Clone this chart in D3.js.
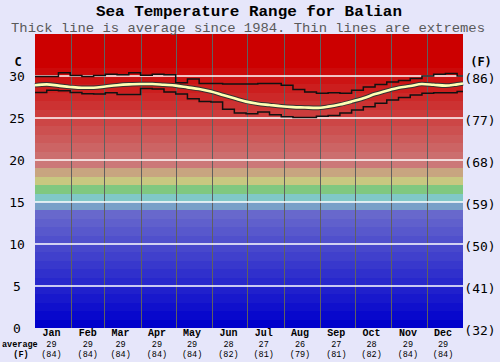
<!DOCTYPE html>
<html><head><meta charset="utf-8">
<script src="https://cdn.jsdelivr.net/npm/d3@7"></script>
<style>html,body{margin:0;padding:0;background:#e6e6fa;}svg{display:block;}</style>
</head><body>
<svg id="chart" width="500" height="362"></svg>
<script>
const title = "Sea Temperature Range for Balian";
const subtitle = "Thick line is average since 1984. Thin lines are extremes";
const months = ["Jan","Feb","Mar","Apr","May","Jun","Jul","Aug","Sep","Oct","Nov","Dec"];
const monthDays = [31,28,31,30,31,30,31,31,30,31,30,31];
const monthAvgC = [29,29,29,29,29,28,27,26,27,28,29,29];
const monthAvgF = [84,84,84,84,84,82,81,79,81,82,84,84];
const cTicks = [0,5,10,15,20,25,30];
const fTicks = [32,41,50,59,68,77,86];
const days = [0,10,20,30,40,50,60,70,80,90,100,110,120,130,140,150,160,170,180,190,200,210,220,230,240,250,260,270,280,290,300,310,320,330,340,350,360,365];
const avgTemp = [28.9,29.0,28.85,28.7,28.6,28.6,28.75,28.9,29.0,29.05,29.05,28.95,28.85,28.65,28.45,28.15,27.75,27.35,26.95,26.7,26.55,26.4,26.3,26.25,26.2,26.35,26.6,26.95,27.35,27.85,28.25,28.6,28.8,29.05,28.95,28.85,29.0,29.1];
const maxTemp = [29.95,29.95,30.4,30.05,29.95,30.05,30.2,30.15,30.4,30.1,30.2,30.15,29.2,29.65,29.1,29.1,29.05,29.05,29.05,29.1,29.1,28.9,28.4,28.1,27.95,28.0,27.95,28.3,28.7,29.0,29.3,29.45,29.7,30.0,30.2,30.3,30.0,30.0];
const minTemp = [28.05,28.3,28.25,28.05,27.9,27.85,28.0,27.8,27.8,28.5,28.45,28.1,27.85,27.3,26.95,26.9,26.05,25.6,25.5,25.7,25.4,25.15,25.05,25.05,25.2,25.3,25.6,25.95,26.35,26.75,27.15,27.45,27.75,27.95,28.0,28.0,28.15,28.15];

const svg = d3.select("#chart");
const x = d3.scaleLinear().domain([0,365]).range([35,463]);
const y = d3.scaleLinear().domain([0,35]).range([328,34]);
const mono = "'Liberation Mono','DejaVu Sans Mono',monospace";
const dmono = "'DejaVu Sans Mono',monospace";

function bandColor(t){
  if (t < 14) { const v = Math.round(t*8); return `rgb(${v},${v},204)`; }
  if (t < 15) return "rgb(120,160,200)";
  if (t < 16) return "rgb(128,200,200)";
  if (t < 17) return "rgb(128,200,128)";
  if (t < 18) return "rgb(200,200,128)";
  if (t < 19) return "rgb(200,165,128)";
  const g = Math.max(0, Math.round((31 - t)*10));
  return `rgb(204,${g},${g})`;
}
const bands = d3.range(0,35,1);
svg.append("g").selectAll("rect").data(bands).join("rect")
  .attr("x", x(0)).attr("width", x(365)-x(0))
  .attr("y", d => y(d+1)).attr("height", d => y(d)-y(d+1))
  .attr("fill", d => bandColor(d)).attr("shape-rendering","crispEdges");

// month boundary lines
const starts = [0]; monthDays.forEach((d,i)=>starts.push(starts[i]+d));
svg.append("g").selectAll("line").data(starts.slice(1,12)).join("line")
  .attr("x1", d=>Math.round(x(d))+0.5).attr("x2", d=>Math.round(x(d))+0.5)
  .attr("y1", y(35)).attr("y2", y(0))
  .attr("stroke","#606060").attr("stroke-width",1).attr("shape-rendering","crispEdges");

// horizontal grid
svg.append("g").selectAll("line").data(cTicks.slice(1)).join("line")
  .attr("x1", x(0)).attr("x2", x(365))
  .attr("y1", d=>y(d)).attr("y2", d=>y(d))
  .attr("stroke","#ffffff").attr("stroke-width",1.6);

// lines
const pts = arr => days.map((d,i)=>[d,arr[i]]);
const stepLine = d3.line().x(d=>x(d[0])).y(d=>y(d[1])).curve(d3.curveStepAfter);
const smoothLine = d3.line().x(d=>x(d[0])).y(d=>y(d[1])).curve(d3.curveMonotoneX);
svg.append("path").attr("d", stepLine(pts(maxTemp))).attr("fill","none").attr("stroke","#111").attr("stroke-width",1.5);
svg.append("path").attr("d", stepLine(pts(minTemp))).attr("fill","none").attr("stroke","#111").attr("stroke-width",1.5);
svg.append("path").attr("d", smoothLine(pts(avgTemp))).attr("fill","none").attr("stroke","#333").attr("stroke-width",4.6);
svg.append("path").attr("d", smoothLine(pts(avgTemp))).attr("fill","none").attr("stroke","#ffffb4").attr("stroke-width",2.6);

// titles
svg.append("text").attr("x",249).attr("y",16).attr("text-anchor","middle")
  .attr("textLength",306).attr("lengthAdjust","spacingAndGlyphs")
  .attr("font-family",mono).attr("font-weight","bold").attr("font-size",15.5).attr("fill","#000").text(title);
svg.append("text").attr("x",248).attr("y",32).attr("text-anchor","middle")
  .attr("textLength",474).attr("lengthAdjust","spacingAndGlyphs")
  .attr("font-family",mono).attr("font-size",13.4).attr("fill","#5a5a5a").text(subtitle);

// left axis
svg.append("g").selectAll("text").data(cTicks).join("text")
  .attr("x",17).attr("y",d=>y(d)).attr("dy","0.35em").attr("text-anchor","middle")
  .attr("font-family",dmono).attr("font-size",13).attr("fill","#000").text(d=>d);
svg.append("text").attr("x",18).attr("y",62).attr("dy","0.35em").attr("text-anchor","middle")
  .attr("font-family",dmono).attr("font-weight","bold").attr("font-size",12).text("C");
// right axis
svg.append("g").selectAll("text").data(fTicks).join("text")
  .attr("x",480).attr("y",(d,i)=>y(cTicks[i])+2).attr("dy","0.35em").attr("text-anchor","middle")
  .attr("font-family",dmono).attr("font-size",13).attr("fill","#000").text(d=>`(${d})`);
svg.append("text").attr("x",481).attr("y",62).attr("dy","0.35em").attr("text-anchor","middle")
  .attr("font-family",dmono).attr("font-weight","bold").attr("font-size",12).text("(F)");

// month labels
const mx = i => x(starts[i] + 14);
const mg = svg.append("g").attr("font-family",mono).attr("text-anchor","middle");
mg.selectAll("text.m").data(months).join("text").attr("class","m")
  .attr("x",(d,i)=>mx(i)).attr("y",336).attr("font-weight","bold").attr("font-size",10).text(d=>d);
mg.selectAll("text.c").data(monthAvgC).join("text").attr("class","c")
  .attr("x",(d,i)=>mx(i)).attr("y",346.5).attr("font-size",8.5).text(d=>d);
mg.selectAll("text.f").data(monthAvgF).join("text").attr("class","f")
  .attr("x",(d,i)=>mx(i)).attr("y",356.5).attr("font-size",8.5).text(d=>`(${d})`);
svg.append("text").attr("x",2).attr("y",346.5).attr("font-family",mono).attr("font-weight","bold").attr("font-size",8.5).text("average");
svg.append("text").attr("x",21).attr("y",356.5).attr("text-anchor","middle").attr("font-family",mono).attr("font-weight","bold").attr("font-size",8.5).text("(F)");
</script>
</body></html>
